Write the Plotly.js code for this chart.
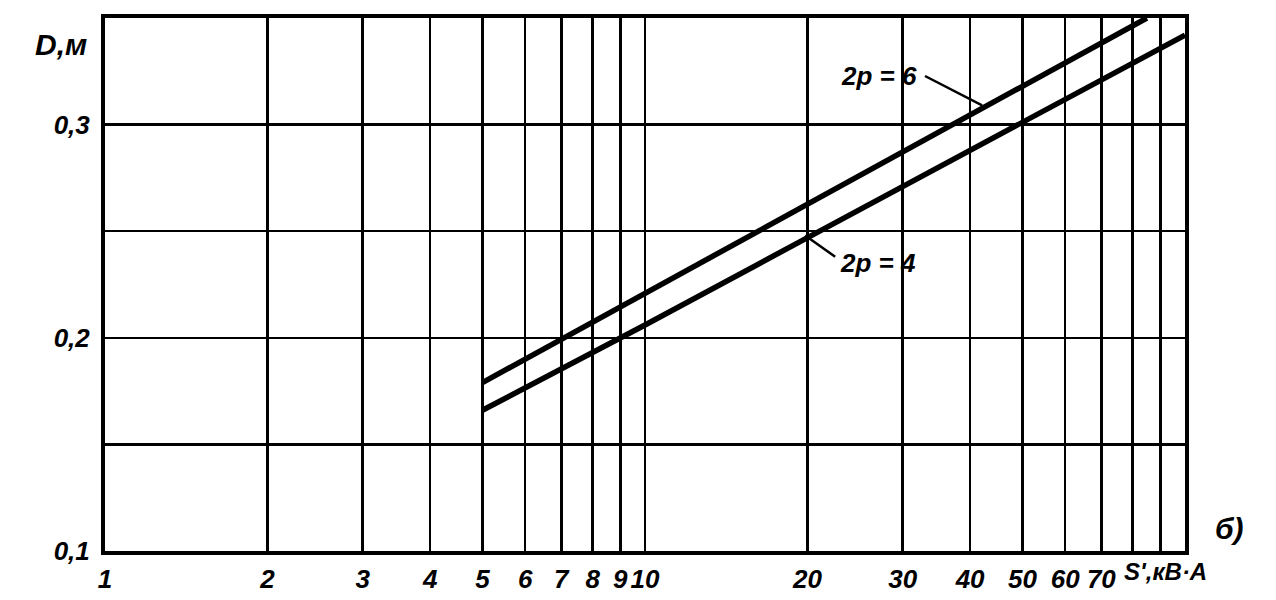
<!DOCTYPE html>
<html>
<head>
<meta charset="utf-8">
<script src="https://cdn.plot.ly/plotly-3.0.1.min.js"></script>
<style>
html,body{margin:0;padding:0;background:#fff;}
#chart{width:1276px;height:600px;}
</style>
</head>
<body>
<div id="chart"></div>
<script>
// Data
var sPole6 = [5, 10, 20, 40, 85];
var dPole6 = [0.179, 0.221, 0.263, 0.305, 0.350];
var sPole4 = [5, 10, 20, 50, 100];
var dPole4 = [0.166, 0.206, 0.247, 0.301, 0.342];

var xTickVals = [1, 2, 3, 4, 5, 6, 7, 8, 9, 10, 20, 30, 40, 50, 60, 70, 80, 90, 100];
var xTickText = ['1', '2', '3', '4', '5', '6', '7', '8', '9', '10', '20', '30', '40', '50', '60', '70', '', '', ''];
var xAxisLabel = "S',кВ·А";
var yTickVals = [0.1, 0.15, 0.2, 0.25, 0.3];
var yTickText = ['0,1', '', '0,2', '', '0,3'];
var yAxisLabel = 'D,м';

var FONT = '"Liberation Sans", Arial, sans-serif';
var tickFont = {family: FONT, size: 26, color: '#000', style: 'italic', weight: 'bold'};
var unitFont = {family: FONT, size: 24, color: '#000', style: 'italic', weight: 'bold'};
var bigFont = {family: FONT, size: 30, color: '#000', style: 'italic', weight: 'bold'};

var lineStyle = {color: '#000', width: 5.5};
var traces = [
  {x: sPole6, y: dPole6, mode: 'lines', line: lineStyle, name: '2p=6', hoverinfo: 'x+y'},
  {x: sPole4, y: dPole4, mode: 'lines', line: lineStyle, name: '2p=4', hoverinfo: 'x+y'}
];

var layout = {
  width: 1276, height: 600,
  margin: {l: 105, r: 91, t: 18, b: 49},
  paper_bgcolor: '#fff', plot_bgcolor: '#fff',
  showlegend: false,
  xaxis: {
    type: 'log', range: [0, 2],
    tickmode: 'array', tickvals: xTickVals, ticktext: xTickText, tickangle: 0,
    showgrid: true, gridcolor: '#000', gridwidth: 2.5,
    showline: true, linecolor: '#000', linewidth: 4, mirror: true,
    zeroline: false, ticks: '', ticklabelstandoff: 2,
    tickfont: tickFont
  },
  yaxis: {
    range: [0.1, 0.35],
    tickmode: 'array', tickvals: yTickVals, ticktext: yTickText,
    showgrid: true, gridcolor: '#000', gridwidth: 2.5,
    showline: true, linecolor: '#000', linewidth: 4, mirror: true,
    zeroline: false, ticks: '', ticklabelstandoff: 6,
    tickfont: tickFont
  },
  shapes: [
    {type: 'line', xref: 'x', yref: 'y', x0: 33.0, y0: 0.3228, x1: 42.1, y1: 0.309, line: {color: '#000', width: 2.5}},
    {type: 'line', xref: 'x', yref: 'y', x0: 19.8, y0: 0.248, x1: 22.5, y1: 0.238, line: {color: '#000', width: 2.5}}
  ],
  annotations: [
    {xref: 'x', yref: 'y', x: Math.log10(27.1), y: 0.323, text: '2p = 6', showarrow: false, font: tickFont, xanchor: 'center', yanchor: 'middle'},
    {xref: 'x', yref: 'y', x: Math.log10(27.0), y: 0.235, text: '2p = 4', showarrow: false, font: tickFont, xanchor: 'center', yanchor: 'middle'},
    {xref: 'paper', yref: 'paper', x: -0.041, y: 0.951, text: yAxisLabel, showarrow: false, font: bigFont, xanchor: 'center', yanchor: 'middle'},
    {xref: 'paper', yref: 'paper', x: 1.041, y: 0.043, text: 'б)', showarrow: false, font: bigFont, xanchor: 'center', yanchor: 'middle'},
    {xref: 'paper', yref: 'paper', x: 0.982, y: -0.038, text: xAxisLabel, showarrow: false, font: unitFont, xanchor: 'center', yanchor: 'middle'}
  ]
};

Plotly.newPlot('chart', traces, layout, {displayModeBar: false, staticPlot: true});
</script>
</body>
</html>
